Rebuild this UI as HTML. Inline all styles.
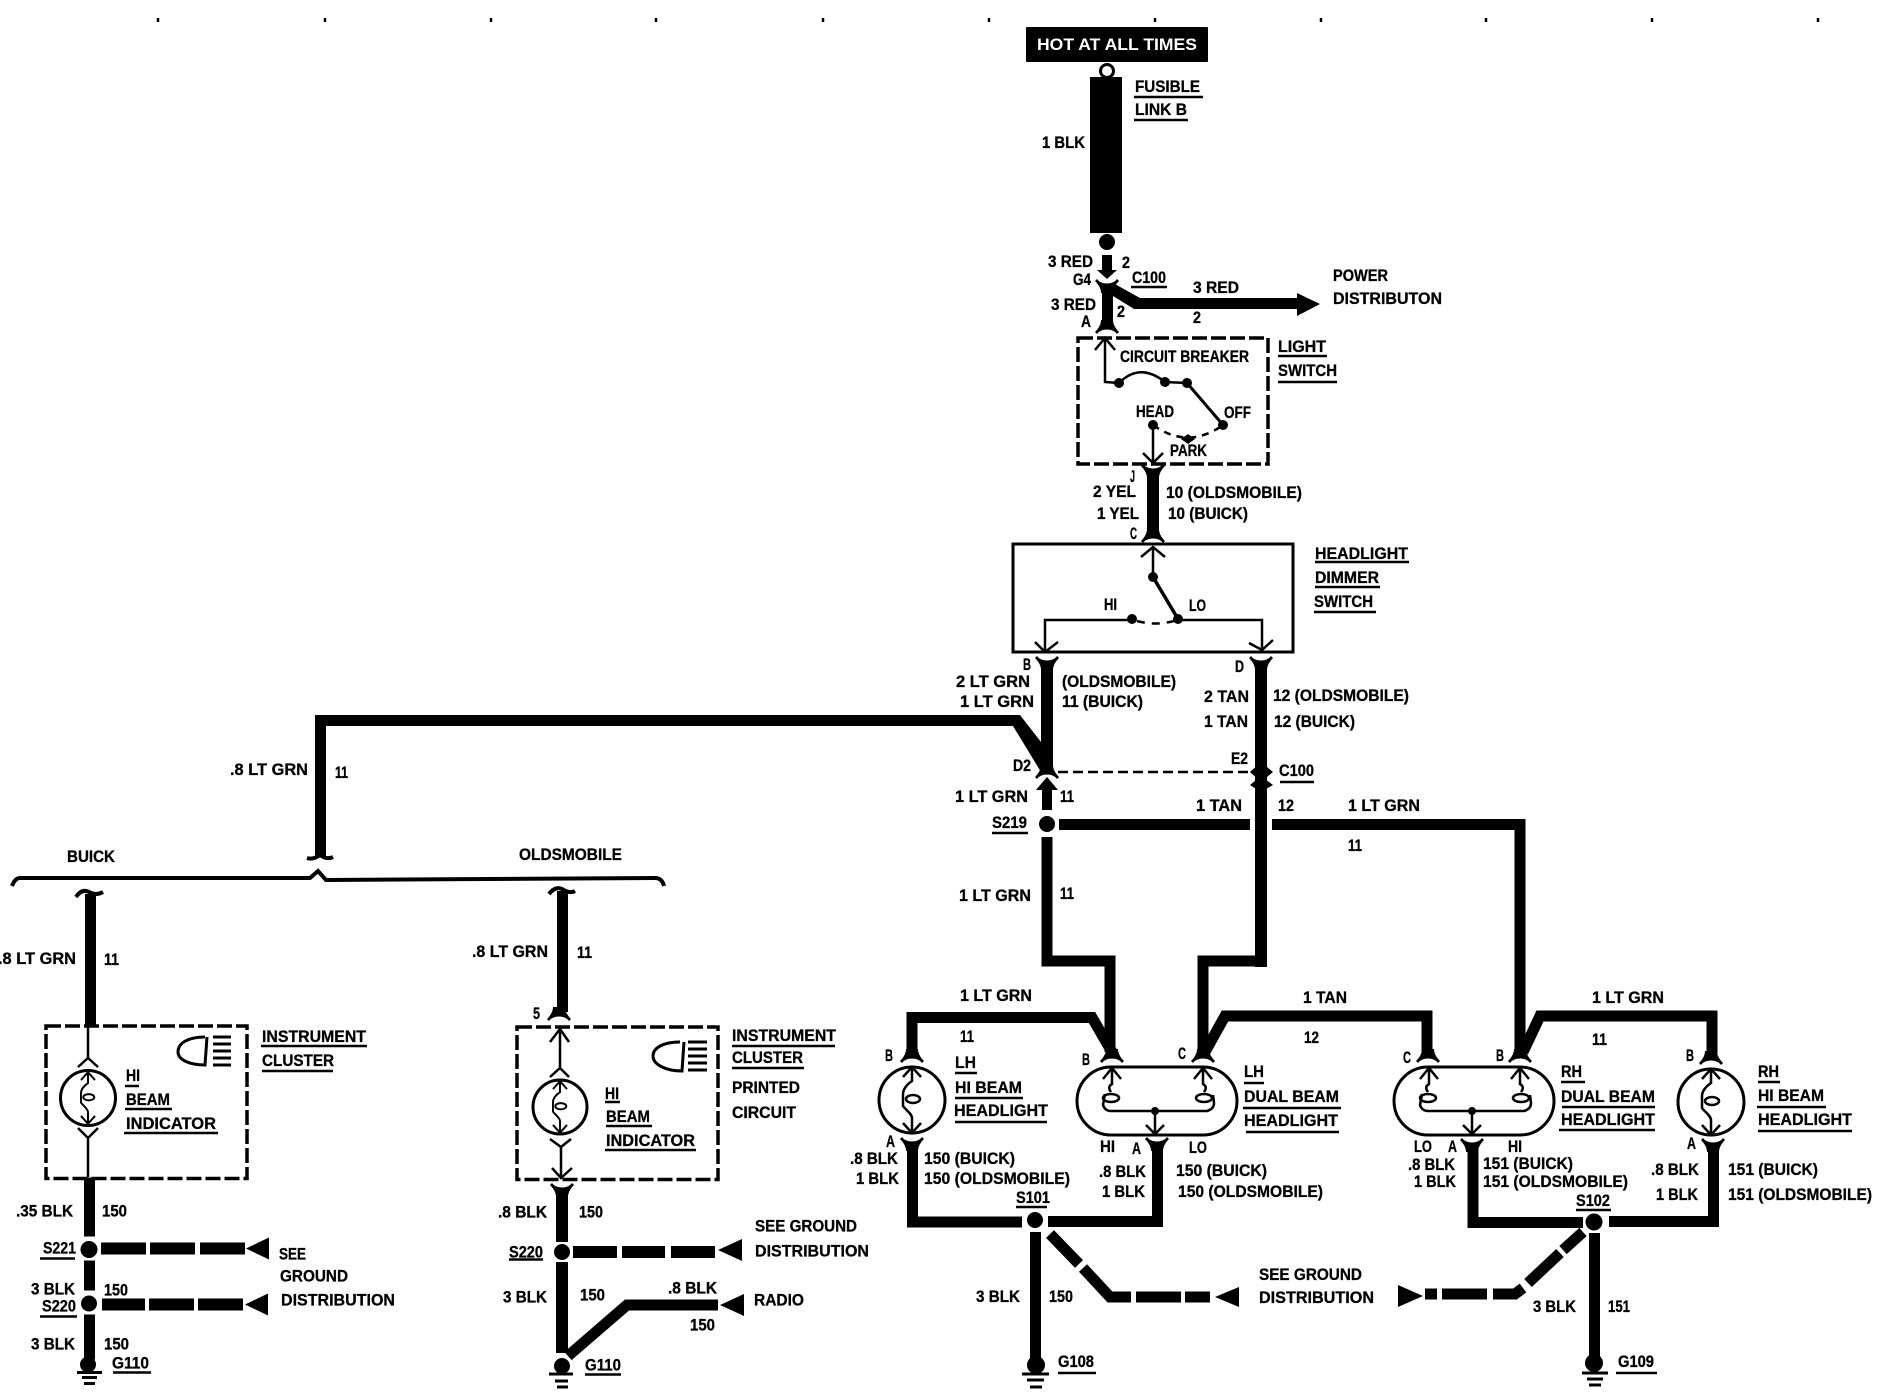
<!DOCTYPE html>
<html><head><meta charset="utf-8"><style>
html,body{margin:0;padding:0;background:#fff}
svg{display:block}
text{font-family:"Liberation Sans",sans-serif;font-weight:700;font-size:17px;fill:#000;stroke:#000;stroke-width:.3}
.w{fill:none;stroke:#000;stroke-width:11}
.t{fill:none;stroke:#000;stroke-width:3}
.m{fill:none;stroke:#000;stroke-width:2.5}
.u{stroke:#000;stroke-width:2.5}
.d{fill:none;stroke:#000;stroke-width:3.5;stroke-dasharray:15 4}
</style></head><body>
<svg width="1882" height="1392" viewBox="0 0 1882 1392" xmlns="http://www.w3.org/2000/svg">
<defs>
<path id="f" d="M-12,4 C-8,0 -6,-4 -6,-8 L6,-8 C6,-4 8,0 12,4 L10,6 C6,0 -6,0 -10,6 Z"/>
<path id="uf" d="M-12,-4 C-8,0 -6,4 -6,8 L6,8 C6,4 8,0 12,-4 L10,-6 C6,0 -6,0 -10,-6 Z"/>
<g id="b" class="m">
<path class="m" d="M0,-33 L0,-19 C-6,-15 -9,-10 -9,-6 L-9,6 C-6,10 0,14 0,18 L0,33 M-9,-23 L0,-33 L9,-23 M-9,23 L0,33 L9,23"/>
<ellipse class="m" cx="1" cy="-1" rx="7" ry="4"/>
</g>
<g id="dual">
<rect class="t" x="0" y="0" width="160" height="68" rx="34" ry="34"/>
<path class="m" d="M35,1 L35,17 Q30,20 34,25 M26,12 L35,1 L44,12 M126,1 L126,17 Q131,20 127,25 M117,12 L126,1 L135,12 M28,27 L26,38 Q28,44 34,44 L130,44 Q137,42 137,36 L136,28 M78,44 L78,66 M69,58 L78,67 L87,58"/>
<ellipse class="m" cx="34" cy="31" rx="8" ry="4"/>
<ellipse class="m" cx="127" cy="31" rx="8" ry="4"/>
<circle cx="78" cy="44" r="4"/>
</g>
</defs>

<!-- registration ticks -->
<path class="u" d="M158,18V22M325,18V22M491,18V22M656,18V22M823,18V22M989,18V22M1155,18V22M1321,18V22M1486,18V22M1652,18V22M1818,18V22"/>

<!-- top feed -->
<rect x="1026" y="27" width="182" height="35" rx="1"/>
<text x="1037" y="50" textLength="160" lengthAdjust="spacingAndGlyphs" style="fill:#fff;stroke:none">HOT AT ALL TIMES</text>
<circle cx="1107" cy="71" r="6.5" fill="#fff" stroke="#000" stroke-width="3"/>
<rect x="1090" y="77" width="32" height="156"/>
<circle cx="1107" cy="242" r="8"/>
<rect x="1102" y="255" width="10" height="16"/>
<path d="M1097,270 L1117,270 L1107,279 Z"/>
<use href="#uf" x="1107" y="285"/>
<rect x="1102" y="285" width="11" height="42"/>
<use href="#f" x="1107" y="328"/>
<polygon points="1113,283 1140,298 1297,298 1297,293 1320,304 1297,316 1297,309 1134,309 1113,296"/>

<!-- light switch -->
<rect class="d" x="1078" y="338" width="190" height="126"/>
<path class="m" d="M1105,338 L1105,382 L1119,383 M1095,350 L1105,338 L1115,350 M1119,383 Q1140,362 1165,382 L1187,383 M1153,425 L1153,463 M1143,453 L1153,463 L1163,453"/>
<path d="M1187,383 L1223,425" stroke="#000" stroke-width="3"/>
<circle cx="1119" cy="383" r="5"/><circle cx="1165" cy="382" r="5"/><circle cx="1187" cy="383" r="5"/><circle cx="1223" cy="425" r="5"/><circle cx="1153" cy="425" r="5"/>
<path class="m" stroke-dasharray="7 6" d="M1153,425 Q1188,450 1223,425"/>
<polygon points="1181,439 1188,434 1195,439 1188,444"/>
<use href="#uf" x="1153" y="470"/>
<rect x="1147" y="470" width="12" height="62"/>
<use href="#f" x="1153" y="537"/>

<!-- dimmer -->
<rect x="1013" y="544" width="280" height="108" fill="none" stroke="#000" stroke-width="3"/>
<path class="m" d="M1153,547 L1153,577 M1141,557 L1153,547 L1165,557 M1045,652 L1045,620 L1132,620 M1178,620 L1262,620 L1262,650 M1035,642 L1045,652 L1058,642 M1249,643 L1262,650 L1273,640"/>
<path stroke="#000" stroke-width="3.5" d="M1153,577 L1178,619"/>
<circle cx="1153" cy="577" r="5"/><circle cx="1132" cy="619" r="5"/><circle cx="1178" cy="619" r="5"/>
<path class="m" stroke-dasharray="8 7" d="M1137,621 Q1155,626 1174,621"/>
<use href="#uf" x="1047" y="662"/>
<use href="#uf" x="1261" y="662"/>
<rect x="1041" y="662" width="12" height="108"/>
<polygon points="315,857 315,715 1020,715 1041,742 1041,772 1013,726 326,726 326,857"/>
<use href="#f" x="1047" y="773"/>
<path d="M1058,772 L1250,772" stroke="#000" stroke-width="2.5" stroke-dasharray="10 5" fill="none"/>
<polygon points="1036,790 1047,777 1058,790 1052,790 1052,810 1042,810 1042,790"/>
<circle cx="1047" cy="824" r="8"/>
<rect x="1255" y="662" width="12" height="305"/>
<polygon points="1250,772 1261,762 1273,772 1261,782"/>
<polygon points="1250,785 1261,776 1273,785 1261,792"/>
<rect x="1059" y="819" width="191" height="11"/>
<path class="w" d="M1272,824.5 L1520,824.5 L1520,1052"/>
<path class="w" d="M1047,837 L1047,961 L1110,961 L1110,1052"/>
<path class="w" d="M1261,961 L1203,961 L1203,1052"/>

<!-- LH hi -->
<path class="w" d="M912,1052 L912,1017.5 L1092,1017.5 L1112,1052"/>
<use href="#f" x="912" y="1057"/>
<circle class="t" cx="912" cy="1100" r="33"/>
<use href="#b" x="912" y="1100"/>
<use href="#uf" x="912" y="1143"/>
<path class="w" d="M912.5,1148 L912.5,1222 L1022,1222"/>
<circle cx="1035" cy="1220" r="8"/>
<path class="w" d="M1048,1221.5 L1157.5,1221.5 L1157.5,1148"/>
<use href="#uf" x="1157" y="1143"/>
<path class="w" d="M1035.5,1232 L1035.5,1360"/>
<circle cx="1036" cy="1365" r="9"/>
<path class="t" d="M1022,1374H1049M1027,1380H1044M1030,1387H1042"/>
<path class="w" d="M1050,1234 L1079,1264 M1083,1268 L1110,1297 L1131,1297 M1136,1297 L1181,1297 M1185,1297 L1210,1297"/>
<polygon points="1215,1297 1239,1287 1239,1307"/>

<!-- LH dual -->
<use href="#f" x="1112" y="1057"/>
<use href="#f" x="1203" y="1057"/>
<use href="#dual" x="1077" y="1067"/>
<path class="w" d="M1205,1052 L1225,1016 L1427,1016 L1427,1052"/>
<use href="#f" x="1428" y="1057"/>

<!-- RH dual -->
<use href="#f" x="1520" y="1057"/>
<use href="#dual" x="1394" y="1067"/>
<path class="w" d="M1523,1052 L1540,1016 L1712,1016 L1712,1054"/>
<use href="#f" x="1711" y="1059"/>
<circle class="t" cx="1711" cy="1102" r="33"/>
<use href="#b" x="1711" y="1102"/>
<use href="#uf" x="1713" y="1144"/>
<path class="w" d="M1713.5,1148 L1713.5,1221.5 L1609,1221.5"/>
<use href="#uf" x="1472" y="1144"/>
<path class="w" d="M1473,1148 L1473,1222.5 L1583,1222.5"/>
<circle cx="1594" cy="1222" r="8.5"/>
<path class="w" d="M1594.5,1233 L1594.5,1360"/>
<circle cx="1594" cy="1363" r="9"/>
<path class="t" d="M1582,1373H1608M1587,1379H1603M1589,1385H1601"/>
<path class="w" d="M1583,1232 L1563,1250 M1560,1253 L1528,1283 M1523,1288 L1515,1294 L1493,1294 M1487,1294 L1442,1294 M1437,1294 L1425,1294"/>
<polygon points="1423,1296 1398,1285 1398,1307"/>

<!-- BUICK/OLDS bracket -->
<path d="M12,886 Q15,878 20,878 L310,878 L318,871 L326,880 L655,878 Q662,878 664,886" fill="none" stroke="#000" stroke-width="4"/>
<path d="M307,858 Q313,860 320,855 Q327,860 333,857" fill="none" stroke="#000" stroke-width="4"/>

<!-- left cluster -->
<path d="M76,897 Q82,888 89,892 Q96,896 103,892" fill="none" stroke="#000" stroke-width="4"/>
<rect x="85" y="894" width="11" height="132"/>
<rect class="d" x="46" y="1026" width="201" height="152.5"/>
<g transform="translate(0,1)">
<path class="m" d="M88,1026 L88,1057 M78,1066 L88,1057 L98,1066 M78,1127 L88,1137 L98,1127 M88,1137 L88,1176"/>
<circle class="t" cx="88" cy="1097" r="27.5"/>
<use href="#b" transform="translate(88,1097) scale(.78)"/>
<path class="t" d="M205,1036 C188,1036 178,1042 178,1051 C178,1059 190,1064 205,1064 L207,1036"/>
<path class="t" d="M213,1036H231M213,1043H231M213,1050H231M213,1057H231M213,1064H231"/>
</g>
<g transform="translate(0,2.5)">
<rect x="84" y="1175" width="11" height="59"/>
<circle cx="89" cy="1247" r="8.5"/>
<rect x="84" y="1258" width="11" height="30"/>
<circle cx="89" cy="1301" r="8"/>
<rect x="84" y="1312" width="11" height="45"/>
<circle cx="88" cy="1362" r="8"/>
<path class="t" d="M77,1370H102M82,1375H97M84,1381H95"/>
<path class="w" style="stroke-width:12" d="M101,1246H146M150,1246H195M200,1246H245M102,1302H145M149,1302H194M198,1302H243"/>
<polygon points="246,1246 269,1235 269,1257"/><polygon points="245,1302 268,1291 268,1313"/>
</g>

<!-- olds cluster -->
<path d="M549,894 Q555,886 562,889 Q570,894 575,891" fill="none" stroke="#000" stroke-width="4"/>
<rect x="557" y="891" width="11" height="121"/>
<use href="#f" x="559" y="1015"/>
<rect class="d" x="517" y="1027" width="201" height="152.5"/>
<g transform="translate(0,1)">
<path class="m" d="M560,1027 L560,1069 M550,1041 L560,1028 L569,1041 M550,1076 L560,1067 L569,1076 M550,1138 L561,1146 L571,1138 M561,1146 L561,1177 M552,1167 L561,1177 L572,1167"/>
<circle class="t" cx="560" cy="1106" r="27"/>
<use href="#b" transform="translate(560,1106) scale(.78)"/>
<path class="t" d="M680,1041 C663,1041 653,1047 653,1055 C653,1063 665,1070 682,1070 L684,1041"/>
<path class="t" d="M688,1041H707M688,1048H707M688,1055H707M688,1062H707M688,1069H707"/>
</g>
<g transform="translate(0,2)">
<use href="#uf" x="562" y="1187"/>
<rect x="556" y="1187" width="12" height="53"/>
<circle cx="562" cy="1250" r="8"/>
<rect x="556" y="1260" width="12" height="91"/>
<path class="w" d="M568,1354 L627,1303 L718,1303"/>
<polygon points="720,1303 744,1292 744,1314"/>
<circle cx="562" cy="1364" r="8"/>
<path class="t" d="M549,1372H573M555,1379H568M557,1385H568"/>
<path class="w" style="stroke-width:12" d="M573,1250H617M622,1250H665M671,1250H715"/>
<polygon points="718,1248 742,1237 742,1259"/>
</g>

<!-- underlines -->
<path class="u" d="M1134,97H1203M1134,120H1188M1131,287H1167M1278,356H1327M1278,382H1337M1315,562H1409M1315,587H1380M1314,612H1376M1280,782H1314M992,833H1028M955,1073H977M955,1098H1023M955,1122H1047M1244,1083H1264M1243,1108H1341M1246,1132H1339M1016,1207H1047M1058,1373H1096M1561,1082H1585M1562,1107H1655M1559,1130H1655M1758,1082H1780M1757,1107H1826M1758,1131H1852M1576,1210H1611M1616,1373H1657"/>
<path class="u" transform="translate(0,1)" d="M261,1045H367M262,1070H333M125,1085H139M125,1108H172M124,1132H218M732,1045H835M732,1067H804M605,1101H620M606,1125H652M605,1149H696"/>
<path class="u" transform="translate(0,2.5)" d="M40,1256H75M40,1314H77M113,1370H151M509,1257H543M585,1372H621"/>

<!-- labels: left clusters, lower part -->
<g transform="translate(0,2.5)">
<text x="16" y="1214" textLength="57" lengthAdjust="spacingAndGlyphs">.35 BLK</text>
<text x="102" y="1214" textLength="25" lengthAdjust="spacingAndGlyphs">150</text>
<text x="43" y="1251" textLength="33" lengthAdjust="spacingAndGlyphs">S221</text>
<text x="279" y="1257" textLength="27" lengthAdjust="spacingAndGlyphs">SEE</text>
<text x="280" y="1279" textLength="68" lengthAdjust="spacingAndGlyphs">GROUND</text>
<text x="31" y="1292" textLength="44" lengthAdjust="spacingAndGlyphs">3 BLK</text>
<text x="104" y="1293" textLength="24" lengthAdjust="spacingAndGlyphs">150</text>
<text x="42" y="1309" textLength="34" lengthAdjust="spacingAndGlyphs">S220</text>
<text x="281" y="1303" textLength="114" lengthAdjust="spacingAndGlyphs">DISTRIBUTION</text>
<text x="31" y="1347" textLength="44" lengthAdjust="spacingAndGlyphs">3 BLK</text>
<text x="104" y="1347" textLength="25" lengthAdjust="spacingAndGlyphs">150</text>
<text x="112" y="1366" textLength="37" lengthAdjust="spacingAndGlyphs">G110</text>
<text x="498" y="1215" textLength="49" lengthAdjust="spacingAndGlyphs">.8 BLK</text>
<text x="579" y="1215" textLength="24" lengthAdjust="spacingAndGlyphs">150</text>
<text x="755" y="1229" textLength="102" lengthAdjust="spacingAndGlyphs">SEE GROUND</text>
<text x="755" y="1254" textLength="114" lengthAdjust="spacingAndGlyphs">DISTRIBUTION</text>
<text x="509" y="1255" textLength="34" lengthAdjust="spacingAndGlyphs">S220</text>
<text x="503" y="1300" textLength="44" lengthAdjust="spacingAndGlyphs">3 BLK</text>
<text x="580" y="1298" textLength="25" lengthAdjust="spacingAndGlyphs">150</text>
<text x="668" y="1291" textLength="49" lengthAdjust="spacingAndGlyphs">.8 BLK</text>
<text x="754" y="1303" textLength="50" lengthAdjust="spacingAndGlyphs">RADIO</text>
<text x="690" y="1328" textLength="25" lengthAdjust="spacingAndGlyphs">150</text>
<text x="585" y="1368" textLength="36" lengthAdjust="spacingAndGlyphs">G110</text>
</g>
<g transform="translate(0,1)">
<text x="262" y="1041" textLength="104" lengthAdjust="spacingAndGlyphs">INSTRUMENT</text>
<text x="262" y="1065" textLength="72" lengthAdjust="spacingAndGlyphs">CLUSTER</text>
<text x="126" y="1080" textLength="14" lengthAdjust="spacingAndGlyphs">HI</text>
<text x="126" y="1104" textLength="44" lengthAdjust="spacingAndGlyphs">BEAM</text>
<text x="126" y="1128" textLength="90" lengthAdjust="spacingAndGlyphs">INDICATOR</text>
<text x="732" y="1040" textLength="104" lengthAdjust="spacingAndGlyphs">INSTRUMENT</text>
<text x="732" y="1062" textLength="71" lengthAdjust="spacingAndGlyphs">CLUSTER</text>
<text x="732" y="1092" textLength="68" lengthAdjust="spacingAndGlyphs">PRINTED</text>
<text x="732" y="1117" textLength="64" lengthAdjust="spacingAndGlyphs">CIRCUIT</text>
<text x="605" y="1098" textLength="14" lengthAdjust="spacingAndGlyphs">HI</text>
<text x="606" y="1121" textLength="44" lengthAdjust="spacingAndGlyphs">BEAM</text>
<text x="606" y="1145" textLength="89" lengthAdjust="spacingAndGlyphs">INDICATOR</text>
</g>

<!-- labels -->
<g>
<text x="1135" y="92" textLength="65" lengthAdjust="spacingAndGlyphs">FUSIBLE</text>
<text x="1135" y="115" textLength="52" lengthAdjust="spacingAndGlyphs">LINK B</text>
<text x="1042" y="148" textLength="43" lengthAdjust="spacingAndGlyphs">1 BLK</text>
<text x="1048" y="267" textLength="45" lengthAdjust="spacingAndGlyphs">3 RED</text>
<text x="1122" y="268" textLength="8" lengthAdjust="spacingAndGlyphs">2</text>
<text x="1073" y="285" textLength="18" lengthAdjust="spacingAndGlyphs">G4</text>
<text x="1132" y="283" textLength="34" lengthAdjust="spacingAndGlyphs">C100</text>
<text x="1193" y="293" textLength="46" lengthAdjust="spacingAndGlyphs">3 RED</text>
<text x="1333" y="281" textLength="55" lengthAdjust="spacingAndGlyphs">POWER</text>
<text x="1333" y="304" textLength="109" lengthAdjust="spacingAndGlyphs">DISTRIBUTON</text>
<text x="1051" y="310" textLength="45" lengthAdjust="spacingAndGlyphs">3 RED</text>
<text x="1117" y="317" textLength="8" lengthAdjust="spacingAndGlyphs">2</text>
<text x="1193" y="323" textLength="8" lengthAdjust="spacingAndGlyphs">2</text>
<text x="1081" y="327" textLength="10" lengthAdjust="spacingAndGlyphs">A</text>
<text x="1120" y="362" textLength="129" lengthAdjust="spacingAndGlyphs">CIRCUIT BREAKER</text>
<text x="1278" y="352" textLength="48" lengthAdjust="spacingAndGlyphs">LIGHT</text>
<text x="1278" y="376" textLength="59" lengthAdjust="spacingAndGlyphs">SWITCH</text>
<text x="1136" y="417" textLength="38" lengthAdjust="spacingAndGlyphs">HEAD</text>
<text x="1224" y="418" textLength="27" lengthAdjust="spacingAndGlyphs">OFF</text>
<text x="1170" y="456" textLength="37" lengthAdjust="spacingAndGlyphs">PARK</text>
<text x="1130" y="482" textLength="5" lengthAdjust="spacingAndGlyphs">J</text>
<text x="1093" y="497" textLength="43" lengthAdjust="spacingAndGlyphs">2 YEL</text>
<text x="1166" y="498" textLength="136" lengthAdjust="spacingAndGlyphs">10 (OLDSMOBILE)</text>
<text x="1097" y="519" textLength="42" lengthAdjust="spacingAndGlyphs">1 YEL</text>
<text x="1168" y="519" textLength="80" lengthAdjust="spacingAndGlyphs">10 (BUICK)</text>
<text x="1130" y="539" textLength="7" lengthAdjust="spacingAndGlyphs">C</text>
<text x="1315" y="559" textLength="93" lengthAdjust="spacingAndGlyphs">HEADLIGHT</text>
<text x="1315" y="583" textLength="64" lengthAdjust="spacingAndGlyphs">DIMMER</text>
<text x="1314" y="607" textLength="59" lengthAdjust="spacingAndGlyphs">SWITCH</text>
<text x="1104" y="610" textLength="13" lengthAdjust="spacingAndGlyphs">HI</text>
<text x="1189" y="611" textLength="17" lengthAdjust="spacingAndGlyphs">LO</text>
<text x="1023" y="670" textLength="8" lengthAdjust="spacingAndGlyphs">B</text>
<text x="1235" y="672" textLength="9" lengthAdjust="spacingAndGlyphs">D</text>
<text x="956" y="687" textLength="74" lengthAdjust="spacingAndGlyphs">2 LT GRN</text>
<text x="960" y="707" textLength="74" lengthAdjust="spacingAndGlyphs">1 LT GRN</text>
<text x="1062" y="687" textLength="114" lengthAdjust="spacingAndGlyphs">(OLDSMOBILE)</text>
<text x="1062" y="707" textLength="81" lengthAdjust="spacingAndGlyphs">11 (BUICK)</text>
<text x="1204" y="702" textLength="45" lengthAdjust="spacingAndGlyphs">2 TAN</text>
<text x="1273" y="701" textLength="136" lengthAdjust="spacingAndGlyphs">12 (OLDSMOBILE)</text>
<text x="1204" y="727" textLength="44" lengthAdjust="spacingAndGlyphs">1 TAN</text>
<text x="1274" y="727" textLength="81" lengthAdjust="spacingAndGlyphs">12 (BUICK)</text>
<text x="1013" y="771" textLength="18" lengthAdjust="spacingAndGlyphs">D2</text>
<text x="1231" y="764" textLength="17" lengthAdjust="spacingAndGlyphs">E2</text>
<text x="1279" y="776" textLength="35" lengthAdjust="spacingAndGlyphs">C100</text>
<text x="955" y="802" textLength="73" lengthAdjust="spacingAndGlyphs">1 LT GRN</text>
<text x="1060" y="802" textLength="14" lengthAdjust="spacingAndGlyphs">11</text>
<text x="1196" y="811" textLength="46" lengthAdjust="spacingAndGlyphs">1 TAN</text>
<text x="1278" y="811" textLength="16" lengthAdjust="spacingAndGlyphs">12</text>
<text x="1348" y="811" textLength="72" lengthAdjust="spacingAndGlyphs">1 LT GRN</text>
<text x="992" y="828" textLength="35" lengthAdjust="spacingAndGlyphs">S219</text>
<text x="1348" y="851" textLength="14" lengthAdjust="spacingAndGlyphs">11</text>
<text x="959" y="901" textLength="72" lengthAdjust="spacingAndGlyphs">1 LT GRN</text>
<text x="1060" y="899" textLength="14" lengthAdjust="spacingAndGlyphs">11</text>
<text x="230" y="775" textLength="78" lengthAdjust="spacingAndGlyphs">.8 LT GRN</text>
<text x="335" y="778" textLength="13" lengthAdjust="spacingAndGlyphs">11</text>
<text x="67" y="862" textLength="48" lengthAdjust="spacingAndGlyphs">BUICK</text>
<text x="-2" y="964" textLength="78" lengthAdjust="spacingAndGlyphs">.8 LT GRN</text>
<text x="104" y="965" textLength="15" lengthAdjust="spacingAndGlyphs">11</text>
<text x="519" y="860" textLength="103" lengthAdjust="spacingAndGlyphs">OLDSMOBILE</text>
<text x="472" y="957" textLength="76" lengthAdjust="spacingAndGlyphs">.8 LT GRN</text>
<text x="577" y="958" textLength="15" lengthAdjust="spacingAndGlyphs">11</text>
<text x="533" y="1019" textLength="7" lengthAdjust="spacingAndGlyphs">5</text>
<text x="960" y="1001" textLength="72" lengthAdjust="spacingAndGlyphs">1 LT GRN</text>
<text x="1303" y="1003" textLength="44" lengthAdjust="spacingAndGlyphs">1 TAN</text>
<text x="960" y="1042" textLength="14" lengthAdjust="spacingAndGlyphs">11</text>
<text x="1304" y="1043" textLength="15" lengthAdjust="spacingAndGlyphs">12</text>
<text x="885" y="1061" textLength="8" lengthAdjust="spacingAndGlyphs">B</text>
<text x="1082" y="1065" textLength="8" lengthAdjust="spacingAndGlyphs">B</text>
<text x="1178" y="1059" textLength="8" lengthAdjust="spacingAndGlyphs">C</text>
<text x="955" y="1068" textLength="21" lengthAdjust="spacingAndGlyphs">LH</text>
<text x="955" y="1093" textLength="67" lengthAdjust="spacingAndGlyphs">HI BEAM</text>
<text x="954" y="1116" textLength="94" lengthAdjust="spacingAndGlyphs">HEADLIGHT</text>
<text x="1244" y="1077" textLength="20" lengthAdjust="spacingAndGlyphs">LH</text>
<text x="1244" y="1102" textLength="95" lengthAdjust="spacingAndGlyphs">DUAL BEAM</text>
<text x="1244" y="1126" textLength="94" lengthAdjust="spacingAndGlyphs">HEADLIGHT</text>
<text x="886" y="1147" textLength="9" lengthAdjust="spacingAndGlyphs">A</text>
<text x="850" y="1164" textLength="48" lengthAdjust="spacingAndGlyphs">.8 BLK</text>
<text x="856" y="1184" textLength="43" lengthAdjust="spacingAndGlyphs">1 BLK</text>
<text x="924" y="1164" textLength="91" lengthAdjust="spacingAndGlyphs">150 (BUICK)</text>
<text x="924" y="1184" textLength="146" lengthAdjust="spacingAndGlyphs">150 (OLDSMOBILE)</text>
<text x="1016" y="1203" textLength="34" lengthAdjust="spacingAndGlyphs">S101</text>
<text x="1100" y="1152" textLength="15" lengthAdjust="spacingAndGlyphs">HI</text>
<text x="1132" y="1154" textLength="9" lengthAdjust="spacingAndGlyphs">A</text>
<text x="1189" y="1153" textLength="18" lengthAdjust="spacingAndGlyphs">LO</text>
<text x="1099" y="1177" textLength="47" lengthAdjust="spacingAndGlyphs">.8 BLK</text>
<text x="1102" y="1197" textLength="43" lengthAdjust="spacingAndGlyphs">1 BLK</text>
<text x="1176" y="1176" textLength="91" lengthAdjust="spacingAndGlyphs">150 (BUICK)</text>
<text x="1178" y="1197" textLength="145" lengthAdjust="spacingAndGlyphs">150 (OLDSMOBILE)</text>
<text x="976" y="1302" textLength="44" lengthAdjust="spacingAndGlyphs">3 BLK</text>
<text x="1049" y="1302" textLength="24" lengthAdjust="spacingAndGlyphs">150</text>
<text x="1058" y="1367" textLength="36" lengthAdjust="spacingAndGlyphs">G108</text>
<text x="1259" y="1280" textLength="103" lengthAdjust="spacingAndGlyphs">SEE GROUND</text>
<text x="1259" y="1303" textLength="115" lengthAdjust="spacingAndGlyphs">DISTRIBUTION</text>
<text x="1592" y="1003" textLength="72" lengthAdjust="spacingAndGlyphs">1 LT GRN</text>
<text x="1592" y="1045" textLength="15" lengthAdjust="spacingAndGlyphs">11</text>
<text x="1403" y="1063" textLength="8" lengthAdjust="spacingAndGlyphs">C</text>
<text x="1496" y="1061" textLength="8" lengthAdjust="spacingAndGlyphs">B</text>
<text x="1686" y="1061" textLength="8" lengthAdjust="spacingAndGlyphs">B</text>
<text x="1561" y="1077" textLength="21" lengthAdjust="spacingAndGlyphs">RH</text>
<text x="1561" y="1102" textLength="94" lengthAdjust="spacingAndGlyphs">DUAL BEAM</text>
<text x="1561" y="1125" textLength="94" lengthAdjust="spacingAndGlyphs">HEADLIGHT</text>
<text x="1758" y="1077" textLength="21" lengthAdjust="spacingAndGlyphs">RH</text>
<text x="1758" y="1101" textLength="66" lengthAdjust="spacingAndGlyphs">HI BEAM</text>
<text x="1758" y="1125" textLength="94" lengthAdjust="spacingAndGlyphs">HEADLIGHT</text>
<text x="1414" y="1152" textLength="18" lengthAdjust="spacingAndGlyphs">LO</text>
<text x="1448" y="1152" textLength="9" lengthAdjust="spacingAndGlyphs">A</text>
<text x="1508" y="1152" textLength="14" lengthAdjust="spacingAndGlyphs">HI</text>
<text x="1687" y="1149" textLength="9" lengthAdjust="spacingAndGlyphs">A</text>
<text x="1408" y="1170" textLength="47" lengthAdjust="spacingAndGlyphs">.8 BLK</text>
<text x="1414" y="1187" textLength="42" lengthAdjust="spacingAndGlyphs">1 BLK</text>
<text x="1483" y="1169" textLength="90" lengthAdjust="spacingAndGlyphs">151 (BUICK)</text>
<text x="1483" y="1187" textLength="145" lengthAdjust="spacingAndGlyphs">151 (OLDSMOBILE)</text>
<text x="1651" y="1175" textLength="48" lengthAdjust="spacingAndGlyphs">.8 BLK</text>
<text x="1656" y="1200" textLength="42" lengthAdjust="spacingAndGlyphs">1 BLK</text>
<text x="1728" y="1175" textLength="90" lengthAdjust="spacingAndGlyphs">151 (BUICK)</text>
<text x="1728" y="1200" textLength="144" lengthAdjust="spacingAndGlyphs">151 (OLDSMOBILE)</text>
<text x="1576" y="1206" textLength="34" lengthAdjust="spacingAndGlyphs">S102</text>
<text x="1533" y="1312" textLength="43" lengthAdjust="spacingAndGlyphs">3 BLK</text>
<text x="1608" y="1312" textLength="22" lengthAdjust="spacingAndGlyphs">151</text>
<text x="1618" y="1367" textLength="36" lengthAdjust="spacingAndGlyphs">G109</text>
</g>
</svg>
</body></html>
